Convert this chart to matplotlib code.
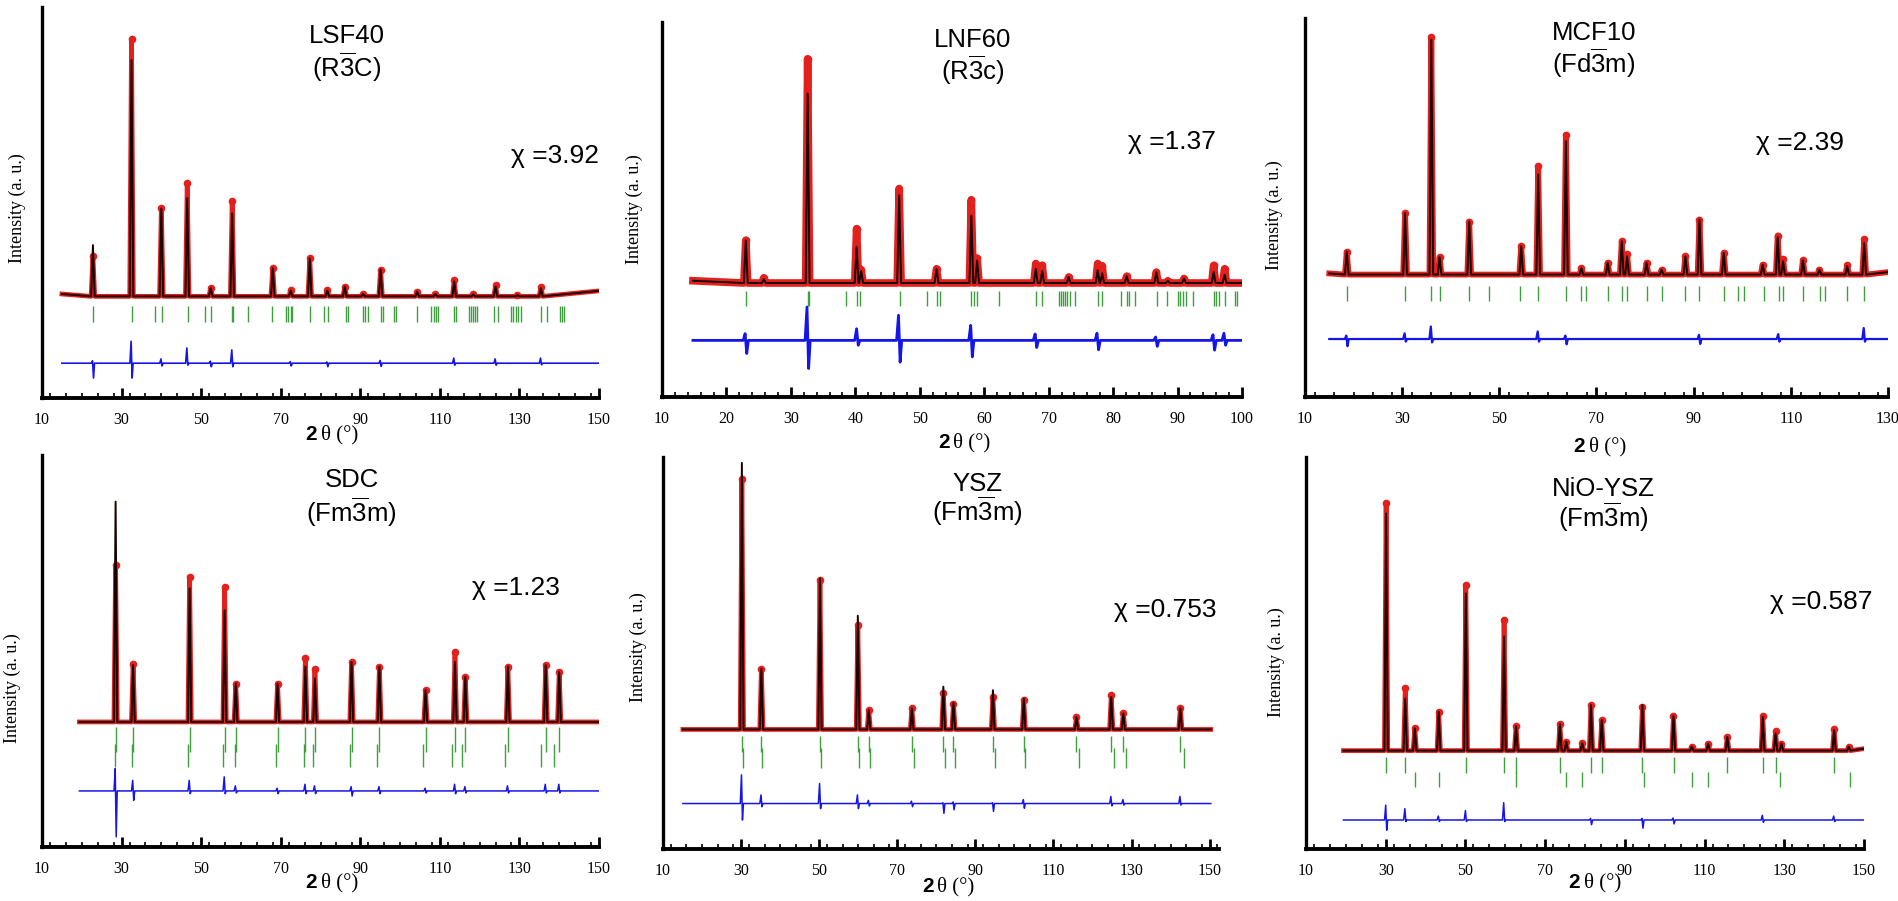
import numpy as np
import matplotlib
matplotlib.use("Agg")
import matplotlib.pyplot as plt
from matplotlib.ticker import MultipleLocator

plt.rcParams['font.family'] = ['Liberation Serif', 'DejaVu Serif']
plt.rcParams['mathtext.fontset'] = 'custom'
plt.rcParams['mathtext.rm'] = 'Liberation Sans'
plt.rcParams['mathtext.it'] = 'Liberation Sans:italic'
plt.rcParams['mathtext.bf'] = 'Liberation Sans:bold'

RED = '#e3211c'
GREEN = '#3f9f3f'
BLUE = '#1515e6'

# ---------------- LSF40 ----------------
lsf_name = ['LSF40', r'(R$\overline{3}$C)']
lsf_chi = 'χ =3.92'
lsf_scan = [15, 150]
lsf_bg = [26.6, 26.0, 27.4]
lsf_pos = [22.8, 32.5, 40.0, 46.5, 52.4, 57.8, 68.0, 72.5, 77.3, 81.7, 86.1,
           90.7, 95.1, 104.3, 108.9, 113.6, 118.4, 124.0, 129.5, 135.4]
lsf_calc = [39.1, 86.4, 48.5, 51.1, 28.1, 47.2, 33.2, 27.5, 35.7, 27.5, 28.5,
            26.6, 32.8, 27.2, 26.6, 29.8, 26.5, 28.5, 26.3, 28.1]
lsf_obs = [36.2, 91.9, 48.5, 54.9, 28.1, 50.4, 33.2, 27.5, 35.7, 27.5, 28.5,
           26.6, 32.8, 27.2, 26.6, 30.2, 26.5, 28.8, 26.3, 28.4]
lsf_bragg = [22.8, 32.5, 38.4, 40.2, 46.6, 51.0, 52.4, 57.7, 57.9, 61.8, 67.8,
             71.4, 71.9, 72.5, 72.9, 77.4, 80.8, 81.8, 86.3, 86.8, 90.7, 91.3,
             91.9, 95.2, 95.6, 98.5, 98.9, 104.3, 107.8, 108.5, 109.0, 109.5,
             113.5, 114.0, 117.4, 117.9, 118.4, 118.9, 119.4, 123.5, 124.6,
             127.8, 128.5, 129.1, 129.7, 130.3, 135.4, 137.0, 140.3, 140.8, 141.3]
lsf_bragg2 = []
lsf_diff_base = 8.9
lsf_diff_pos = [22.8, 32.5, 40.0, 46.5, 52.4, 57.8, 72.5, 81.7, 95.1, 113.6, 124.0, 135.4]
lsf_diff_hi = [9.5, 14.5, 10.0, 12.8, 9.4, 12.3, 9.3, 9.2, 9.6, 10.2, 10.0, 10.2]
lsf_diff_lo = [5.1, 5.1, 8.2, 8.4, 8.0, 8.0, 8.2, 8.0, 8.1, 8.4, 8.4, 8.5]

# ---------------- LNF60 ----------------
lnf_name = ['LNF60', r'(R$\overline{3}$c)']
lnf_chi = 'χ =1.37'
lnf_scan = [14.8, 100]
lnf_bg = [31.0, 30.4, 30.4]
lnf_pos = [23.0, 25.8, 32.6, 40.2, 40.9, 46.8, 52.6, 58.0, 58.9, 68.0, 69.0,
           73.1, 77.6, 78.3, 82.1, 86.7, 88.5, 91.0, 95.6, 97.3]
lnf_calc = [41.8, 31.4, 80.9, 40.0, 33.6, 53.8, 34.2, 48.4, 36.4, 34.2, 33.6,
            32.0, 33.8, 33.0, 32.2, 33.3, 31.0, 31.6, 33.3, 32.6]
lnf_obs = [41.8, 31.8, 90.2, 44.9, 34.0, 55.6, 34.2, 52.6, 37.0, 35.6, 35.1,
           32.0, 35.6, 35.0, 32.2, 33.3, 31.0, 31.6, 35.1, 34.2]
lnf_bragg = [23.0, 32.6, 32.8, 38.5, 40.3, 40.8, 46.9, 51.1, 52.6, 53.1, 58.0,
             58.4, 58.9, 62.3, 68.1, 68.9, 71.6, 71.9, 72.2, 72.6, 72.9, 73.3,
             74.1, 77.7, 78.3, 81.2, 82.1, 82.4, 83.4, 86.8, 88.3, 90.0, 90.4,
             90.8, 91.3, 92.4, 95.6, 96.0, 96.4, 97.3, 98.9, 99.2]
lnf_bragg2 = []
lnf_diff_base = 15.1
lnf_diff_pos = [23.0, 32.6, 40.3, 46.8, 58.0, 68.0, 77.6, 86.7, 95.6, 97.3]
lnf_diff_hi = [16.9, 24.0, 18.2, 21.8, 19.1, 16.8, 17.0, 16.0, 16.6, 17.0]
lnf_diff_lo = [11.6, 7.6, 13.8, 9.3, 10.7, 13.2, 12.6, 13.5, 12.5, 13.8]

# ---------------- MCF10 ----------------
mcf_name = ['MCF10', r'(Fd$\overline{3}$m)']
mcf_chi = 'χ =2.39'
mcf_scan = [15, 130.4]
mcf_bg = [32.6, 32.3, 33.0]
mcf_pos = [18.6, 30.6, 36.0, 37.7, 43.8, 54.5, 58.0, 63.7, 66.9, 72.3, 75.2,
           76.3, 80.3, 83.4, 88.3, 91.2, 96.2, 104.2, 107.3, 108.4, 112.5,
           115.9, 121.6, 125.1]
mcf_calc = [38.3, 48.5, 94.3, 36.9, 46.3, 39.8, 58.7, 67.5, 34.0, 35.4, 41.1,
            37.1, 35.4, 33.6, 37.1, 46.8, 38.0, 34.9, 42.2, 35.8, 36.1, 33.6,
            34.5, 40.6]
mcf_obs = [38.3, 48.5, 95.0, 36.9, 46.3, 39.8, 60.9, 69.2, 34.0, 35.4, 41.1,
           37.6, 35.4, 33.6, 37.1, 46.8, 38.0, 34.9, 42.6, 36.3, 36.1, 33.6,
           34.7, 41.7]
mcf_bragg = [18.6, 30.6, 36.0, 37.7, 43.8, 47.9, 54.3, 58.0, 63.7, 66.9, 67.9,
             72.3, 75.3, 76.3, 80.3, 83.4, 88.3, 91.2, 96.2, 99.2, 100.3, 104.4,
             107.5, 108.4, 112.6, 116.0, 117.0, 121.6, 125.1]
mcf_bragg2 = []
mcf_diff_base = 15.3
mcf_diff_pos = [18.6, 30.6, 36.0, 58.0, 63.7, 91.2, 107.5, 125.1]
mcf_diff_hi = [16.2, 16.8, 18.6, 17.3, 16.2, 16.4, 16.6, 18.2]
mcf_diff_lo = [13.4, 14.6, 14.4, 14.6, 13.9, 14.0, 14.6, 14.6]

# ---------------- SDC ----------------
sdc_name = ['SDC', r'(Fm$\overline{3}$m)']
sdc_chi = 'χ =1.23'
sdc_scan = [19.4, 150]
sdc_bg = [31.9, 31.9, 31.9]
sdc_pos = [28.5, 32.9, 47.1, 55.9, 58.7, 69.2, 76.2, 78.6, 87.8, 94.8, 106.4,
           113.8, 116.4, 127.1, 136.6, 140.0]
sdc_calc = [88.1, 46.4, 66.0, 60.4, 41.7, 41.7, 46.0, 43.0, 47.2, 46.0, 40.0,
            47.2, 43.4, 46.0, 46.4, 44.7]
sdc_obs = [71.9, 46.8, 68.9, 66.4, 41.7, 41.7, 48.1, 45.5, 47.2, 46.0, 40.0,
           49.8, 43.4, 46.0, 46.4, 44.7]
sdc_bragg = [28.5, 32.9, 47.1, 55.9, 58.7, 69.2, 76.2, 78.6, 87.8, 94.8, 106.4,
             113.8, 116.4, 127.1, 136.6, 140.0]
sdc_bragg2 = [28.3, 32.7, 46.8, 55.6, 58.4, 68.8, 75.9, 78.2, 87.3, 94.2,
              105.7, 113.1, 115.6, 126.3, 135.3, 138.6]
sdc_diff_base = 14.3
sdc_diff_pos = [28.5, 32.9, 47.1, 55.9, 58.7, 69.2, 76.2, 78.6, 87.8, 94.8,
                106.4, 113.8, 116.4, 127.1, 136.6, 140.0]
sdc_diff_hi = [20.0, 17.0, 17.0, 17.9, 15.6, 15.0, 16.0, 15.6, 15.4, 15.4,
               15.0, 16.0, 15.4, 15.6, 16.0, 16.0]
sdc_diff_lo = [2.6, 11.9, 13.6, 13.6, 13.8, 13.6, 13.6, 13.6, 13.0, 13.6,
               13.8, 13.6, 13.8, 13.8, 13.8, 13.8]

# ---------------- YSZ ----------------
ysz_name = ['YSZ', r'(Fm$\overline{3}$m)']
ysz_chi = 'χ =0.753'
ysz_scan = [15.1, 150.3]
ysz_bg = [30.5, 30.5, 30.5]
ysz_pos = [30.2, 35.2, 50.2, 59.9, 62.7, 73.75, 81.8, 84.4, 94.5, 102.4, 115.9,
           124.8, 127.9, 142.5]
ysz_calc = [98.5, 46.0, 69.0, 59.5, 35.4, 35.9, 41.4, 37.3, 40.5, 38.4, 33.6,
            38.8, 34.6, 35.9]
ysz_obs = [94.5, 46.0, 68.6, 57.1, 35.4, 35.9, 39.9, 37.0, 38.8, 37.9, 33.6,
           39.2, 34.6, 35.9]
ysz_bragg = [30.2, 35.2, 50.2, 59.9, 62.7, 73.75, 81.8, 84.4, 94.5, 102.4, 115.9,
             124.8, 127.9, 142.5]
ysz_bragg2 = [30.5, 35.4, 50.5, 60.2, 63.0, 74.2, 82.1, 84.7, 95.0, 102.8,
              116.5, 125.4, 128.6, 143.5]
ysz_diff_base = 11.6
ysz_diff_pos = [30.2, 35.2, 50.2, 59.9, 62.7, 73.75, 81.8, 84.4, 94.5, 102.4,
                124.8, 127.9, 142.5]
ysz_diff_hi = [18.9, 13.8, 16.7, 13.8, 12.4, 12.2, 11.8, 12.0, 11.8, 12.6,
               13.4, 12.6, 13.4]
ysz_diff_lo = [7.4, 10.8, 10.3, 10.3, 11.0, 10.8, 9.1, 10.0, 9.6, 10.4,
               11.0, 11.2, 11.2]

# ---------------- NiO-YSZ ----------------
nio_name = ['NiO-YSZ', r'(Fm$\overline{3}$m)']
nio_chi = 'χ =0.587'
nio_scan = [19.4, 150]
nio_bg = [25.1, 25.1, 25.6]
nio_pos = [30.1, 34.9, 37.3, 43.3, 50.1, 59.7, 62.7, 73.7, 75.3, 79.3, 81.5,
           84.2, 94.4, 102.2, 106.8, 110.9, 115.7, 124.6, 127.8, 129.3, 142.5, 146.2]
nio_calc = [85.6, 38.4, 30.8, 35.0, 65.2, 54.2, 31.3, 31.9, 27.4, 27.0, 36.7,
            32.9, 36.7, 33.9, 26.1, 26.9, 28.6, 33.7, 29.5, 26.9, 30.3, 26.1]
nio_obs = [88.3, 41.0, 30.8, 35.0, 67.3, 58.4, 31.3, 31.9, 27.4, 27.0, 36.7,
           32.9, 36.2, 33.9, 26.1, 26.9, 28.6, 33.9, 30.0, 26.9, 30.6, 26.1]
nio_bragg = [30.1, 34.9, 50.1, 59.7, 62.6, 73.7, 81.5, 84.2, 94.4, 102.4, 115.7,
             124.6, 127.8, 142.5]
nio_bragg2 = [37.3, 43.3, 62.7, 75.3, 79.3, 94.9, 106.8, 110.9, 129.0, 146.4]
nio_diff_base = 7.4
nio_diff_pos = [30.1, 34.9, 43.3, 50.1, 59.7, 81.5, 94.4, 102.2, 124.6, 142.5]
nio_diff_hi = [11.2, 10.3, 8.4, 9.8, 11.8, 7.8, 7.8, 7.9, 8.6, 8.4]
nio_diff_lo = [4.8, 7.0, 7.0, 7.0, 7.0, 6.2, 5.3, 6.4, 6.8, 7.0]


def profile_path(scan, bg, pos, heights, hw):
    # polyline through the reflection tops, dropping back to background
    xs = [scan[0]]
    ys = [bg[0]]
    for p, h in zip(pos, heights):
        xs += [p - hw, p, p + hw]
        ys += [bg[1], h, bg[1]]
    xs.append(scan[1])
    ys.append(bg[2])
    return np.array(xs), np.array(ys)


def diff_path(scan, base, pos, hi, lo):
    xs = [scan[0]]
    ys = [base]
    for p, a, b in zip(pos, hi, lo):
        xs += [p - 0.4, p - 0.1, p + 0.15, p + 0.4]
        ys += [base, a, b, base]
    xs.append(scan[1])
    ys.append(base)
    return np.array(xs), np.array(ys)


# panel layout in pixels: left, right, top, bottom
W, H = 1899, 901
panels = [
    dict(rect=(42, 599, 7, 398), xlim=(10, 150), major=20, minor=4,
         name=lsf_name, chi=lsf_chi, scan=lsf_scan, bg=lsf_bg, pos=lsf_pos,
         calc=lsf_calc, obs=lsf_obs, bragg=lsf_bragg, bragg2=lsf_bragg2,
         btick=(19.4, 23.6), btick2=None, dbase=lsf_diff_base,
         dpos=lsf_diff_pos, dhi=lsf_diff_hi, dlo=lsf_diff_lo, hw=0.45,
         title_xy=(0.547, 0.925, 0.846), chi_xy=(1.0, 0.62), xl=(0.497, 37),
         yl=(-25, 0.486), obs_lw=3.4, diff_lw=1.2),
    dict(rect=(662, 1242, 22, 397), xlim=(10, 100), major=10, minor=2,
         name=lnf_name, chi=lnf_chi, scan=lnf_scan, bg=lnf_bg, pos=lnf_pos,
         calc=lnf_calc, obs=lnf_obs, bragg=lnf_bragg, bragg2=lnf_bragg2,
         btick=(24.2, 28.3), btick2=None, dbase=lnf_diff_base,
         dpos=lnf_diff_pos, dhi=lnf_diff_hi, dlo=lnf_diff_lo, hw=0.3,
         title_xy=(0.535, 0.952, 0.872), chi_xy=(0.955, 0.68), xl=(0.499, 46),
         yl=(-28, 0.5), obs_lw=5.5, diff_lw=2.0),
    dict(rect=(1305, 1888, 18, 397), xlim=(10, 130), major=20, minor=4,
         name=mcf_name, chi=mcf_chi, scan=mcf_scan, bg=mcf_bg, pos=mcf_pos,
         calc=mcf_calc, obs=mcf_obs, bragg=mcf_bragg, bragg2=mcf_bragg2,
         btick=(25.2, 29.2), btick2=None, dbase=mcf_diff_base,
         dpos=mcf_diff_pos, dhi=mcf_diff_hi, dlo=mcf_diff_lo, hw=0.38,
         title_xy=(0.496, 0.96, 0.88), chi_xy=(0.925, 0.67), xl=(0.483, 50),
         yl=(-31, 0.48), obs_lw=4.2, diff_lw=1.6),
    dict(rect=(42, 599, 455, 847), xlim=(10, 150), major=20, minor=4,
         name=sdc_name, chi=sdc_chi, scan=sdc_scan, bg=sdc_bg, pos=sdc_pos,
         calc=sdc_calc, obs=sdc_obs, bragg=sdc_bragg, bragg2=sdc_bragg2,
         btick=(24.3, 30.6), btick2=(20.4, 26.4), dbase=sdc_diff_base,
         dpos=sdc_diff_pos, dhi=sdc_diff_hi, dlo=sdc_diff_lo, hw=0.42,
         title_xy=(0.556, 0.936, 0.855), chi_xy=(0.93, 0.66), xl=(0.497, 36),
         yl=(-30, 0.406), obs_lw=3.4, diff_lw=1.1),
    dict(rect=(663, 1219, 457, 849), xlim=(10, 152.4), major=20, minor=4,
         name=ysz_name, chi=ysz_chi, scan=ysz_scan, bg=ysz_bg, pos=ysz_pos,
         calc=ysz_calc, obs=ysz_obs, bragg=ysz_bragg, bragg2=ysz_bragg2,
         btick=(24.7, 28.9), btick2=(20.6, 25.7), dbase=ysz_diff_base,
         dpos=ysz_diff_pos, dhi=ysz_diff_hi, dlo=ysz_diff_lo, hw=0.42,
         title_xy=(0.565, 0.93, 0.862), chi_xy=(0.995, 0.61), xl=(0.49, 38),
         yl=(-25, 0.515), obs_lw=3.4, diff_lw=1.1),
    dict(rect=(1306, 1864, 457, 849), xlim=(10, 150), major=20, minor=4,
         name=nio_name, chi=nio_chi, scan=nio_scan, bg=nio_bg, pos=nio_pos,
         calc=nio_calc, obs=nio_obs, bragg=nio_bragg, bragg2=nio_bragg2,
         btick=(19.5, 23.5), btick2=(15.7, 19.7), dbase=nio_diff_base,
         dpos=nio_diff_pos, dhi=nio_diff_hi, dlo=nio_diff_lo, hw=0.42,
         title_xy=(0.532, 0.918, 0.847), chi_xy=(1.015, 0.63), xl=(0.494, 34),
         yl=(-30, 0.477), obs_lw=3.4, diff_lw=1.1),
]

fig = plt.figure(figsize=(W / 100, H / 100), dpi=100)

for pn in panels:
    l, r, t, b = pn['rect']
    ax = fig.add_axes([l / W, 1 - b / H, (r - l) / W, (b - t) / H])

    # observed points, calculated profile, reflections and difference
    xo, yo = profile_path(pn['scan'], pn['bg'], pn['pos'], pn['obs'], pn['hw'])
    xc, yc = profile_path(pn['scan'], pn['bg'], pn['pos'], pn['calc'], pn['hw'])
    ax.plot(xo, yo, color=RED, lw=pn['obs_lw'], solid_joinstyle='round', zorder=2)
    ax.plot(pn['pos'], pn['obs'], 'o', color=RED, ms=4.5, zorder=2)
    ax.plot(xc, yc, color='#1a0000', lw=1.4, zorder=3)
    ax.vlines(pn['bragg'], pn['btick'][0], pn['btick'][1], color=GREEN, lw=1.0)
    if pn['btick2'] is not None:
        ax.vlines(pn['bragg2'], pn['btick2'][0], pn['btick2'][1], color=GREEN, lw=1.0)
    xd, yd = diff_path(pn['scan'], pn['dbase'], pn['dpos'], pn['dhi'], pn['dlo'])
    ax.plot(xd, yd, color=BLUE, lw=pn['diff_lw'])

    ax.set_xlim(*pn['xlim'])
    ax.set_ylim(0, 100)
    ax.set_yticks([])
    ax.xaxis.set_minor_locator(MultipleLocator(pn['minor']))
    ax.set_xticks(np.arange(10, pn['xlim'][1] + 0.1, pn['major']))
    for s in ['top', 'right']:
        ax.spines[s].set_visible(False)
    ax.spines['left'].set_linewidth(2.4)
    ax.spines['bottom'].set_linewidth(2.8)
    ax.tick_params(axis='x', which='major', direction='in', length=7, width=2.0,
                   labelsize=11.5, pad=10)
    ax.tick_params(axis='x', which='minor', direction='in', length=3.5, width=1.2)

    tx, ty1, ty2 = pn['title_xy']
    ax.text(tx, ty1, pn['name'][0], transform=ax.transAxes, ha='center', va='center',
            family='Liberation Sans', fontsize=18.5)
    ax.text(tx, ty2, pn['name'][1], transform=ax.transAxes, ha='center', va='center',
            family='Liberation Sans', fontsize=18.5)
    ax.text(pn['chi_xy'][0], pn['chi_xy'][1], pn['chi'], transform=ax.transAxes,
            ha='right', va='center', family='Liberation Sans', fontsize=19)

    # axis titles
    xlx, xly = pn['xl']
    ax.annotate('2', (xlx, 0), xycoords='axes fraction', xytext=(-2, -xly),
                textcoords='offset pixels', ha='right', va='center',
                family='Liberation Sans', weight='bold', fontsize=15)
    ax.annotate('θ (°)', (xlx, 0), xycoords='axes fraction', xytext=(2, -xly),
                textcoords='offset pixels', ha='left', va='center', fontsize=15)
    ylx, yly = pn['yl']
    ax.annotate('Intensity (a. u.)', (0, yly), xycoords='axes fraction',
                xytext=(ylx, 0), textcoords='offset pixels', ha='center',
                va='center', rotation=90, fontsize=13)

fig.savefig('out.png', dpi=100)
